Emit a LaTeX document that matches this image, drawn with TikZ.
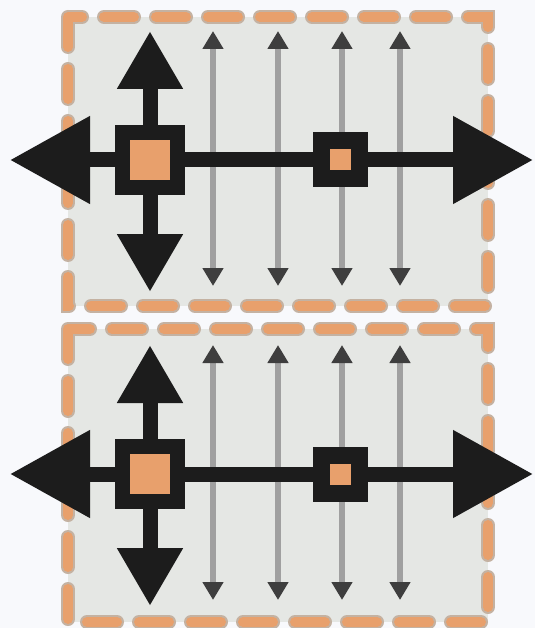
\documentclass[tikz,border=0pt]{standalone}
\usepackage{tikz}
\usetikzlibrary{arrows.meta}
\definecolor{panelgray}{RGB}{229,231,228}
\definecolor{dashorange}{RGB}{232,160,108}
\definecolor{dashrim}{RGB}{196,178,162}
\definecolor{inkblack}{RGB}{28,28,28}
\definecolor{pencil}{RGB}{160,160,160}
\definecolor{paper}{RGB}{248,249,252}

\begin{document}
\begin{tikzpicture}[
  x=1pt, y=-1pt,
  sq/.style={draw=inkblack, fill=dashorange, line width=15pt, minimum size=55pt, inner sep=0pt},
  sqs/.style={draw=inkblack, fill=dashorange, line width=17pt, minimum size=38pt, inner sep=0pt},
  rim/.style={draw=dashrim, line width=14pt, line cap=round, dash pattern=on 30pt off 22pt},
  frame/.style={draw=dashorange, line width=10pt, line cap=round, dash pattern=on 30pt off 22pt},
  shaft/.style={line width=15pt, inkblack},
  harr/.style={shaft, -{Triangle[length=80pt,width=84pt]}},
  varr/.style={shaft, -{Triangle[length=58pt,width=62pt]}},
  garr/.style={line width=6pt, pencil, {Triangle[length=18pt,width=20pt,color=inkblack!85]}-{Triangle[length=18pt,width=20pt,color=inkblack!85]}}
]
\fill[paper] (0,0) rectangle (535,628);
\useasboundingbox (0,0) rectangle (535,628);
\foreach \p/\cy/\ty/\by in {1/160/17/306, 2/474/329/622} {
  \fill[panelgray] (68,\ty) rectangle (488,\by);
  \draw[rim] (68,\ty) rectangle (488,\by);
  \draw[frame] (68,\ty) rectangle (488,\by);
  \foreach \gx [count=\i] in {213,278,342,400} {
    \coordinate (gt\p\i) at (\gx,\cy-129);
    \coordinate (gb\p\i) at (\gx,\cy+126);
    \draw[garr] (gt\p\i) -- (gb\p\i);
  }
  \node[sq] (lsq\p) at (150,\cy) {};
  \node[sqs] (rsq\p) at (340,\cy) {};
  \coordinate (lw\p) at (10,\cy);
  \coordinate (re\p) at (533,\cy);
  \coordinate (up\p) at (150,\cy-129);
  \coordinate (dn\p) at (150,\cy+132);
  \draw[harr] (lsq\p) -- (lw\p);
  \draw[shaft] (lsq\p) -- (rsq\p);
  \draw[harr] (rsq\p) -- (re\p);
  \draw[varr] (lsq\p) -- (up\p);
  \draw[varr] (lsq\p) -- (dn\p);
}
\end{tikzpicture}
\end{document}
